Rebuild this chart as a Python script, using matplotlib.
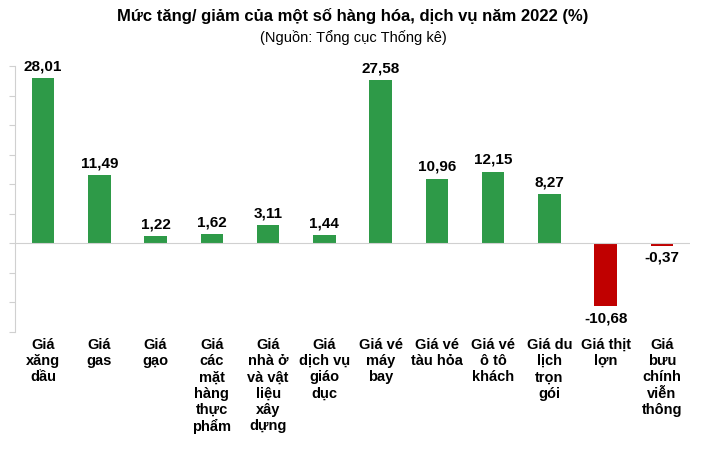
import matplotlib
matplotlib.use("Agg")
import matplotlib.pyplot as plt

plt.rcParams["font.family"] = "Liberation Sans"

categories = ["Giá\nxăng\ndầu", "Giá\ngas", "Giá\ngạo", "Giá\ncác\nmặt\nhàng\nthực\nphẩm",
              "Giá\nnhà ở\nvà vật\nliệu\nxây\ndựng", "Giá\ndịch vụ\ngiáo\ndục", "Giá vé\nmáy\nbay",
              "Giá vé\ntàu hỏa", "Giá vé\nô tô\nkhách", "Giá du\nlịch\ntrọn\ngói", "Giá thịt\nlợn",
              "Giá\nbưu\nchính\nviễn\nthông"]
values = [28.01, 11.49, 1.22, 1.62, 3.11, 1.44, 27.58, 10.96, 12.15, 8.27, -10.68, -0.37]
labels = ["28,01", "11,49", "1,22", "1,62", "3,11", "1,44", "27,58", "10,96", "12,15", "8,27", "-10,68", "-0,37"]

fig = plt.figure(figsize=(7.06, 4.54), dpi=100)
ax = fig.add_axes([15/706, (454-332)/454, 675/706, 266/454])
x = list(range(len(values)))
colors = ["#2e9a48" if v >= 0 else "#c00000" for v in values]
ax.bar(x, values, width=0.4, color=colors)
ax.set_ylim(-15, 30)
ax.set_xlim(-0.5, len(values) - 0.5)
ax.axhline(0, color="#d0d0d0", lw=0.8)
for xi, v, l in zip(x, values, labels):
    ax.text(xi, v + (0.8 if v >= 0 else -0.8), l, ha="center",
            va="bottom" if v >= 0 else "top", fontsize=11, fontweight="bold")
ax.set_xticks([])
ax.set_yticks([-15, -10, -5, 0, 5, 10, 15, 20, 25, 30])
ax.set_yticklabels([])
ax.tick_params(axis="y", length=4, color="#d0d0d0", direction="out")
for s in ["top", "right", "bottom"]:
    ax.spines[s].set_visible(False)
ax.spines["left"].set_color("#d0d0d0")
for xi, c in zip(x, categories):
    ax.text(xi, -16.0, c, ha="center", va="top", fontsize=10.5, fontweight="bold",
            linespacing=1.2)
fig.text(0.5, 0.965, "Mức tăng/ giảm của một số hàng hóa, dịch vụ năm 2022 (%)",
         ha="center", va="center", fontsize=12, fontweight="bold")
fig.text(0.5, 0.918, "(Nguồn: Tổng cục Thống kê)", ha="center", va="center", fontsize=10.5)
fig.savefig("out.png", dpi=100)
